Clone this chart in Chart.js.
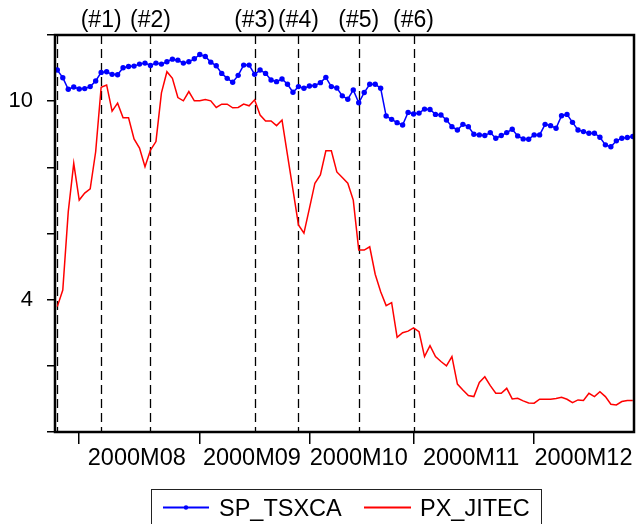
<!DOCTYPE html>
<html>
<head>
<meta charset="utf-8">
<script src="https://cdn.jsdelivr.net/npm/chart.js@4"></script>
<style>
  html, body { margin: 0; padding: 0; background: #fff; }
  #wrap { width: 638px; height: 524px; }
</style>
</head>
<body>
<div id="wrap"><canvas id="chart" width="638" height="524"></canvas></div>
<script>
/* ===== DATA ===== */
// one value per trading day, index 0..105
const SP_TSXCA = [
  10.94, 10.71, 10.36, 10.43, 10.37, 10.38, 10.44, 10.61, 10.87, 10.89,
  10.81, 10.80, 11.01, 11.05, 11.06, 11.12, 11.15, 11.08, 11.15, 11.12,
  11.19, 11.27, 11.24, 11.15, 11.19, 11.28, 11.41, 11.35, 11.18, 11.07,
  10.84, 10.69, 10.57, 10.78, 11.09, 11.09, 10.81, 10.94, 10.84, 10.64,
  10.59, 10.67, 10.51, 10.27, 10.44, 10.39, 10.46, 10.47, 10.56, 10.72,
  10.44, 10.40, 10.16, 10.06, 10.34, 9.95, 10.26, 10.51, 10.51, 10.39,
  9.55, 9.45, 9.35, 9.28, 9.66, 9.61, 9.64, 9.76, 9.75, 9.60,
  9.58, 9.43, 9.23, 9.13, 9.30, 9.23, 9.00, 8.98, 8.96, 9.05,
  8.88, 8.96, 9.05, 9.15, 8.95, 8.86, 8.85, 8.98, 8.98, 9.30,
  9.26, 9.18, 9.56, 9.60, 9.36, 9.13, 9.08, 9.03, 9.03, 8.91,
  8.68, 8.62, 8.80, 8.88, 8.90, 8.93
];
const PX_JITEC = [
  3.79, 4.29, 6.66, 8.12, 7.01, 7.22, 7.35, 8.47, 10.42, 10.49,
  9.70, 9.94, 9.50, 9.50, 8.86, 8.58, 8.02, 8.52, 8.78, 10.25,
  10.89, 10.69, 10.11, 10.01, 10.29, 10.01, 10.01, 10.05, 10.01, 9.81,
  9.91, 9.91, 9.80, 9.81, 9.91, 9.86, 10.04, 9.58, 9.40, 9.40,
  9.26, 9.43, 8.37, 7.32, 6.26, 6.01, 6.76, 7.52, 7.77, 8.50,
  8.50, 7.86, 7.69, 7.52, 7.01, 5.50, 5.50, 5.60, 4.77, 4.24,
  3.82, 3.91, 2.86, 3.00, 3.05, 3.15, 3.03, 2.28, 2.61, 2.28,
  2.13, 2.00, 2.28, 1.45, 1.27, 1.10, 1.07, 1.50, 1.67, 1.40,
  1.17, 1.17, 1.32, 1.00, 1.02, 0.94, 0.88, 0.87, 0.99, 0.99,
  0.99, 1.01, 1.05, 0.99, 0.89, 0.97, 0.95, 1.17, 1.07, 1.22,
  1.07, 0.84, 0.82, 0.92, 0.95, 0.95
];

// month boundaries (tick marks) and month label positions, in day index
const MONTH_TICKS = [4, 26, 46, 65, 87];
const MONTH_LABEL_POS = [14.5, 35.5, 55, 75.5, 96];
const MONTH_LABELS = ['2000M08', '2000M09', '2000M10', '2000M11', '2000M12'];

// left axis: ticks every 2, only some labelled
const Y_TICK_LABELS = { 10: '10', 4: '4' };

// event lines (dashed)
const EVENT_POS = [0, 8, 17, 36, 44, 55, 65];
const EVENT_LABELS = ['', '(#1)', '(#2)', '(#3)', '(#4)', '(#5)', '(#6)'];

const FONT = 'Liberation Sans, Arial, sans-serif';

/* ===== PLUGINS ===== */
// dashed event lines + labels above the plot
const eventLines = {
  id: 'eventLines',
  beforeDatasetsDraw(chart) {
    const { ctx, chartArea: a, scales: { x } } = chart;
    ctx.save();
    ctx.strokeStyle = '#000';
    ctx.lineWidth = 1.3;
    ctx.setLineDash([9, 5]);
    EVENT_POS.forEach(p => {
      const px = Math.round(x.getPixelForValue(p)) + 0.5;
      ctx.beginPath();
      ctx.moveTo(px, a.top);
      ctx.lineTo(px, a.bottom);
      ctx.stroke();
    });
    ctx.setLineDash([]);
    ctx.fillStyle = '#000';
    ctx.font = '23px ' + FONT;
    ctx.textAlign = 'center';
    ctx.textBaseline = 'alphabetic';
    EVENT_POS.forEach((p, i) => {
      if (!EVENT_LABELS[i]) return;
      ctx.fillText(EVENT_LABELS[i], x.getPixelForValue(p), 27);
    });
    ctx.restore();
  }
};

// thick frame round the plot + boxed legend at the bottom
const frameAndLegend = {
  id: 'frameAndLegend',
  afterDraw(chart) {
    const { ctx, chartArea: a } = chart;
    ctx.save();
    ctx.strokeStyle = '#000';
    ctx.lineWidth = 2.5;
    ctx.strokeRect(a.left, a.top, a.right - a.left, a.bottom - a.top);

    // legend
    ctx.lineWidth = 1;
    ctx.strokeStyle = '#222';
    ctx.strokeRect(151.5, 489.5, 390, 45);
    const ly = 507.5;
    ctx.lineWidth = 2;
    ctx.strokeStyle = '#0000FF';
    ctx.beginPath(); ctx.moveTo(163, ly); ctx.lineTo(209, ly); ctx.stroke();
    ctx.fillStyle = '#0000FF';
    ctx.beginPath(); ctx.arc(186, ly, 2.2, 0, Math.PI * 2); ctx.fill();
    ctx.strokeStyle = '#FF0000';
    ctx.beginPath(); ctx.moveTo(364, ly); ctx.lineTo(411, ly); ctx.stroke();
    ctx.fillStyle = '#000';
    ctx.font = '23.5px ' + FONT;
    ctx.textAlign = 'left';
    ctx.textBaseline = 'alphabetic';
    ctx.fillText('SP_TSXCA', 219, 515.5);
    ctx.fillText('PX_JITEC', 420, 515.5);
    ctx.restore();
  }
};

/* ===== CHART ===== */
const idx = SP_TSXCA.map((_, i) => i);

new Chart(document.getElementById('chart'), {
  type: 'line',
  data: {
    datasets: [
      {
        label: 'SP_TSXCA',
        data: idx.map(i => ({ x: i, y: SP_TSXCA[i] })),
        borderColor: '#0000FF',
        backgroundColor: '#0000FF',
        borderWidth: 1.5,
        pointRadius: 2.7,
        pointBorderWidth: 0,
        tension: 0
      },
      {
        label: 'PX_JITEC',
        data: idx.map(i => ({ x: i, y: PX_JITEC[i] })),
        borderColor: '#FF0000',
        backgroundColor: '#FF0000',
        borderWidth: 1.5,
        pointRadius: 0,
        tension: 0
      }
    ]
  },
  options: {
    responsive: false,
    animation: false,
    layout: { padding: { top: 35, right: 2, left: 0, bottom: 0 } },
    plugins: { legend: { display: false }, tooltip: { enabled: false } },
    scales: {
      x: {
        type: 'linear',
        min: -0.42,
        max: 105.22,
        border: { display: false },
        afterFit(s) { s.height = 92; },
        afterBuildTicks(s) {
          s.ticks = [...MONTH_TICKS, ...MONTH_LABEL_POS]
            .sort((a, b) => a - b)
            .map(v => ({ value: v }));
        },
        grid: {
          drawOnChartArea: false,
          tickLength: 12,
          lineWidth: 1.5,
          tickColor: c => (c.tick && MONTH_TICKS.includes(c.tick.value)) ? '#000' : 'rgba(0,0,0,0)'
        },
        ticks: {
          autoSkip: false,
          maxRotation: 0,
          padding: 0,
          color: '#000',
          font: { family: FONT, size: 23.5 },
          callback: v => {
            const k = MONTH_LABEL_POS.indexOf(v);
            return k >= 0 ? MONTH_LABELS[k] : '';
          }
        }
      },
      y: {
        min: 0,
        max: 12,
        border: { display: false },
        afterFit(s) { s.width = 55; },
        grid: { drawOnChartArea: false, tickLength: 8, lineWidth: 1.5, tickColor: '#000' },
        ticks: {
          stepSize: 2,
          padding: 14,
          color: '#000',
          font: { family: FONT, size: 22 },
          callback: v => Y_TICK_LABELS[v] || ''
        }
      }
    }
  },
  plugins: [eventLines, frameAndLegend]
});
</script>
</body>
</html>
